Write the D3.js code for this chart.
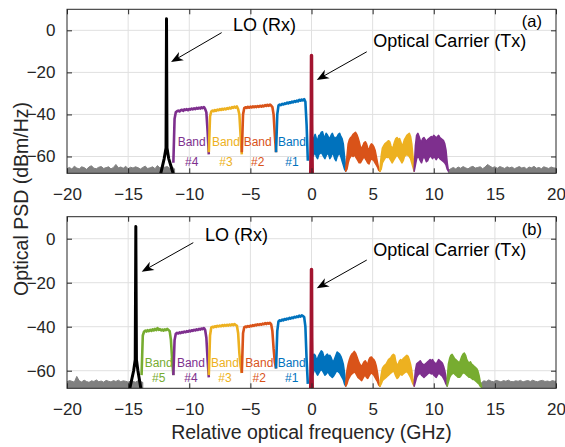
<!DOCTYPE html>
<html><head><meta charset="utf-8">
<script src="https://cdn.jsdelivr.net/npm/d3@7"></script>
<style>
body{margin:0;background:#fff}
svg{display:block}
text{font-family:"Liberation Sans",Arial,Helvetica,sans-serif}
</style>
</head><body>
<svg id="c" width="565" height="447"></svg>
<script>
// ---------- axes ----------
const xTicks = [-20,-15,-10,-5,0,5,10,15,20];
const yTicks = [-60,-40,-20,0];
const xDomain = [-20,20];
const yDomain = [-68,10];
const STEP = 0.1;      // GHz sampling of band traces
const FSTEP = 0.2;     // GHz sampling of noise floor

// ---------- panel (a) ----------
const GL_a = [-65.8,-65.2,-66.0,-64.6,-65.5,-65.9,-64.9,-65.3,-66.1,-65.0,-64.4,-65.6,-65.8,-65.1,-64.8,-65.7,-65.3,-64.9,-65.9,-65.2,-63.8,-65.4,-65.0,-65.6,-64.7,-65.8,-65.1,-65.5,-64.9,-65.3,-66.0,-65.2,-64.6,-65.7,-65.4,-64.9,-65.8,-64.3,-65.5,-65.0,-65.1,-64.8,-65.6,-65.0,-65.9];
const GR_a = [-66.5,-65.8,-65.2,-65.9,-65.0,-65.6,-64.8,-65.4,-65.9,-65.1,-64.7,-65.5,-65.2,-64.9,-65.8,-65.0,-63.8,-64.6,-65.3,-64.9,-65.6,-64.8,-65.2,-65.7,-64.9,-65.4,-65.0,-65.8,-65.3,-64.8,-65.5,-65.1,-65.9,-65.0,-65.4,-64.7,-65.6,-65.2,-65.8,-64.9,-65.3,-65.7,-65.0,-65.4,-65.6];
const LO_a_f = [-12.33,-12.05,-11.9,-11.86,-11.82,-11.68,-11.32];
const LO_a_v = [-68,-61,-56,5.5,-56,-61,-68];
const CR_f = [-0.06,-0.02,0,0.02,0.06];
const CR_a = [-68,-45,-12,-45,-68];
const P4a = [-63,-42,-39,-38.5,-38.2,-38.6,-38.0,-37.8,-38.3,-37.6,-37.9,-37.5,-38.0,-37.4,-37.7,-37.2,-37.6,-37.1,-37.5,-36.9,-37.3,-36.8,-37.2,-36.6,-37.0,-36.5,-37.4,-39,-48,-59];
const Y3a = [-58,-41,-38.6,-38.2,-38.5,-37.9,-38.3,-37.7,-38.0,-37.5,-37.9,-37.3,-37.7,-37.2,-37.6,-37.0,-37.4,-36.8,-37.2,-36.5,-36.9,-36.3,-36.8,-36.2,-37.5,-40,-50,-59];
const O2a = [-58,-40,-37.0,-36.6,-36.9,-36.4,-36.8,-36.3,-36.7,-36.2,-36.6,-36.1,-36.5,-36.0,-36.4,-35.9,-36.3,-35.8,-36.2,-35.6,-36.0,-35.4,-35.9,-35.3,-35.8,-36.5,-40,-50,-58];
const B1a = [-58,-40,-35.8,-35.3,-35.6,-35.0,-35.3,-34.7,-35.0,-34.4,-34.8,-34.2,-34.5,-33.9,-34.3,-33.7,-34.0,-33.4,-33.8,-33.1,-33.5,-32.9,-33.3,-32.7,-34.0,-45,-62];
const BRa_hi = [-53,-51,-49.5,-51.5,-52.5,-50,-49.8,-48.5,-48.3,-50.5,-50.7,-49,-49.8,-51,-51.4,-50,-49,-50.5,-51.5,-51,-50.7,-49.5,-49,-50.5,-51.5,-54,-60,-66];
const BRa_lo = [-60,-59,-58,-60,-61,-59,-58.5,-58,-59,-60,-61,-59.5,-58.5,-59,-61,-60,-58.5,-59,-61,-62,-60,-59,-58.5,-60,-62,-64,-66,-67];
const ORa_hi = [-66,-60,-54,-52,-51,-50.5,-49.5,-49,-48.5,-49.5,-51,-53,-55.5,-56,-55,-53.5,-53,-54,-56,-57,-55,-54,-54.5,-55.5,-57,-60,-63,-66,-67];
const ORa_lo = [-67,-66,-63,-61,-60,-59.5,-60,-59,-60,-61,-62,-63,-63,-62,-61,-60,-61,-62,-63,-63.5,-62,-61,-61.5,-62,-63,-64,-65,-66.5,-67];
const YRa_hi = [-66,-60,-56,-55,-54,-53.5,-53,-52.5,-53,-55,-56.5,-55,-53,-51.5,-51,-52,-51.5,-53,-55,-54,-52,-51,-50,-49.5,-49,-50.5,-54,-60,-66];
const YRa_lo = [-67,-66,-63,-62,-61,-60,-60.5,-60,-61,-62,-63,-62,-61,-60,-59.5,-60,-61,-62,-63,-62,-60,-59.5,-59,-59.5,-60,-61,-63,-65,-67];
const PRa_hi = [-66,-55,-50,-49,-50.5,-52.5,-53,-51.5,-51,-52,-53,-52,-51.5,-51,-50.5,-51,-50,-50.5,-51.5,-50.5,-50,-51,-51.5,-52,-52.5,-54,-57,-63,-67];
const PRa_lo = [-67,-64,-61,-60,-60.5,-62,-63,-61,-60,-61,-62.5,-62,-60.5,-60,-60,-61,-60,-60.5,-61.5,-60.5,-60,-61,-61.5,-62,-62.5,-63,-64,-66,-67];

// ---------- panel (b) ----------
const GL_b = [-65.0,-64.5,-64.8,-65.2,-62.6,-64.6,-65.1,-64.3,-64.9,-65.3,-64.6,-64.9,-64.2,-65.0,-64.7,-65.2,-64.4,-64.8,-65.1,-64.5,-64.9,-64.3,-65.0,-64.6,-64.8,-65.2,-64.7,-64.9,-65.2,-64.6,-64.9,-65.3];
const GR_b = [-65.5,-64.6,-64.9,-64.2,-64.8,-65.0,-64.4,-64.7,-65.1,-64.5,-64.8,-64.3,-64.9,-65.0,-64.6,-64.8,-64.4,-65.1,-64.7,-64.5,-64.9,-64.3,-64.8,-65.0,-64.6,-64.4,-64.9,-64.7,-65.0,-64.5,-64.8,-64.6];
const LO_b_f = [-14.86,-14.55,-14.42,-14.37,-14.32,-14.2,-13.96];
const LO_b_v = [-68,-60,-55,5.5,-55,-60,-68];
const CR_b = [-68,-45,-14,-45,-68];
const G5b = [-62,-44,-42.3,-41.8,-42.2,-41.6,-42.0,-41.4,-41.9,-41.2,-41.7,-41.0,-41.6,-40.6,-41.4,-41.1,-41.7,-41.3,-41.8,-41.2,-41.6,-41.0,-41.5,-42.0,-46,-55,-62];
const P4b = [-62,-46,-43.2,-42.8,-43.1,-42.6,-42.9,-42.4,-42.7,-42.2,-42.5,-42.0,-42.3,-41.8,-42.1,-41.6,-41.9,-41.4,-41.7,-41.2,-41.5,-41.0,-41.3,-40.8,-41.1,-40.6,-41.5,-45,-55,-63];
const Y3b = [-62,-44,-40.4,-40.0,-40.3,-39.8,-40.1,-39.6,-39.9,-39.5,-39.8,-39.3,-39.7,-39.2,-39.6,-39.1,-39.5,-39.0,-39.4,-38.9,-39.3,-38.8,-39.2,-39.6,-43,-52,-58,-61];
const O2b = [-61,-43,-40.3,-39.9,-40.2,-39.7,-40.0,-39.5,-39.8,-39.3,-39.6,-39.1,-39.4,-38.9,-39.2,-38.8,-39.1,-38.6,-38.9,-38.4,-38.8,-38.3,-38.6,-38.2,-38.9,-42,-50,-56,-59];
const B1b = [-59,-42,-37.6,-37.1,-37.4,-36.8,-37.1,-36.5,-36.8,-36.3,-36.6,-36.0,-36.3,-35.8,-36.1,-35.5,-35.8,-35.3,-35.6,-35.0,-35.4,-34.8,-35.2,-35.6,-40,-55,-66];
const BRb_hi = [-56,-52.5,-53,-55,-54.5,-53,-52,-51,-51.5,-53.5,-54,-53,-52.5,-53.5,-53,-54,-55.5,-56,-54.5,-53,-51.5,-52,-52.5,-53.5,-55,-57,-61,-66];
const BRb_lo = [-62,-60,-59.5,-61,-62,-61,-60,-59.5,-60,-61,-62,-61.5,-60.5,-61,-62,-62.5,-63,-62.5,-61.5,-60.5,-60,-60.5,-61,-62,-63,-64,-66,-67];
const ORb_hi = [-66,-60,-57,-55,-53.5,-52.5,-52,-51.2,-52,-53.5,-55,-56.5,-57.5,-58,-57,-56,-55.5,-56.5,-57,-55,-54,-53.8,-54.5,-55,-56,-58,-61,-65,-67];
const ORb_lo = [-67,-66,-64,-63,-62,-61.5,-61,-60.5,-61,-62,-63,-63.5,-64,-64.5,-63.5,-62.5,-62,-63,-63.5,-62.5,-61.5,-61,-61.5,-62,-63,-64,-65,-66.5,-67];
const YRb_hi = [-66,-62,-59,-58,-57.5,-57,-56,-55,-54.5,-54,-53,-52.6,-53,-56,-57.5,-57,-55.5,-55,-55.5,-54.5,-54,-53.5,-53,-53.5,-55,-57,-60,-64,-67];
const YRb_lo = [-67,-66,-64.5,-64,-63.5,-63,-62.5,-62,-61.5,-61,-60.5,-60,-61,-62.5,-63.5,-63,-62,-61.5,-62,-61.5,-61,-60.5,-60.5,-61,-62,-63,-64.5,-66,-67];
const PRb_hi = [-66,-60,-57,-56.4,-56,-55.5,-56.5,-57,-57.5,-57,-56.5,-56,-55.5,-55,-55.5,-55,-56,-56.5,-57,-56,-55,-55.5,-56,-56.5,-58,-60,-63,-66];
const PRb_lo = [-67,-65,-63,-62,-61.5,-61,-62,-62.5,-63,-62.5,-62,-61.5,-61,-61,-61.5,-61,-62,-62.5,-63,-62,-61,-61.5,-62,-62.5,-63.5,-64.5,-66,-67];
const GRb_hi = [-64,-57,-54.5,-53,-52.6,-53.5,-54.5,-55,-55.5,-56,-56.5,-55,-53.5,-52.5,-52,-53,-55,-56,-56.5,-56,-57,-57.5,-58,-58.5,-59,-60,-62,-65,-67];
const GRb_lo = [-67,-65,-63,-62,-61.5,-61,-61.5,-62,-62.5,-63,-63,-62.5,-61.5,-61,-61,-61.5,-62,-62.5,-63,-63,-63.5,-64,-64,-64.5,-65,-65.5,-66,-67,-67.5];

// band label texts / positions (GHz)
const bandNames_a = ["#4","#3","#2","#1"];
const bandPos_a = [-9.8,-7.0,-4.4,-1.6];
const bandNames_b = ["#5","#4","#3","#2","#1"];
const bandPos_b = [-12.5,-9.86,-7.08,-4.27,-1.62];

const C = {blue:"#0072BD", orange:"#D95319", yellow:"#EDB120", purple:"#7E2F8E", green:"#77AC30", red:"#A2142F", gray:"#808080", black:"#000000"};

const panels = [
 {id:"a", top:9.3, bottom:173.3,
  floors:[[-20,GL_a],[11.2,GR_a]],
  lines:[[-11.3,P4a,C.purple],[-8.4,Y3a,C.yellow],[-5.7,O2a,C.orange],[-2.9,B1a,C.blue]],
  areas:[[0.1,BRa_hi,BRa_lo,C.blue],[2.8,ORa_hi,ORa_lo,C.orange],[5.6,YRa_hi,YRa_lo,C.yellow],[8.4,PRa_hi,PRa_lo,C.purple]],
  lo:[LO_a_f,LO_a_v], car:CR_a,
  names:bandNames_a, pos:bandPos_a, colors:[C.purple,C.yellow,C.orange,C.blue],
  labY:[-54.8,-64.5],
  loText:[-6.42,-0.4], loArrow:[[-7.35,-1.1],[-11.49,-15.1]],
  crText:[5.06,-8.0], crArrow:[[4.52,-10.2],[0.43,-23.6]],
  tag:"(a)", tagPos:[17.2,1.7]},
 {id:"b", top:216.7, bottom:388.3,
  floors:[[-20,GL_b],[13.9,GR_b]],
  lines:[[-13.9,G5b,C.green],[-11.3,P4b,C.purple],[-8.4,Y3b,C.yellow],[-5.7,O2b,C.orange],[-2.9,B1b,C.blue]],
  areas:[[0.1,BRb_hi,BRb_lo,C.blue],[2.8,ORb_hi,ORb_lo,C.orange],[5.6,YRb_hi,YRb_lo,C.yellow],[8.4,PRb_hi,PRb_lo,C.purple],[11.1,GRb_hi,GRb_lo,C.green]],
  lo:[LO_b_f,LO_b_v], car:CR_b,
  names:bandNames_b, pos:bandPos_b, colors:[C.green,C.purple,C.yellow,C.orange,C.blue],
  labY:[-58.2,-65.0],
  loText:[-8.71,-1.1], loArrow:[[-9.67,-1.8],[-13.89,-15]],
  crText:[5.06,-7.95], crArrow:[[4.52,-9.7],[0.43,-22.5]],
  tag:"(b)", tagPos:[17.2,1.5]}
];

const svg = d3.select("#c");
const x = d3.scaleLinear().domain(xDomain).range([67,556]);
const TXT = "#262626";

function arrow(g, p0, p1){
  const [x0,y0]=p0,[x1,y1]=p1;
  const dx=x1-x0, dy=y1-y0, L=Math.hypot(dx,dy), ux=dx/L, uy=dy/L;
  const hl=12, hw=4.8, nb=3.5;
  const bx=x1-ux*hl, by=y1-uy*hl;
  g.append("line").attr("x1",x0).attr("y1",y0).attr("x2",x1-ux*6).attr("y2",y1-uy*6)
   .attr("stroke","#000").attr("stroke-width",1);
  const pts=[[x1,y1],[bx-uy*hw,by+ux*hw],[x1-ux*(hl-nb),y1-uy*(hl-nb)],[bx+uy*hw,by-ux*hw]];
  g.append("path").attr("d","M"+pts.map(p=>p.join(",")).join("L")+"Z").attr("fill","#000");
}

panels.forEach(P=>{
  const y = d3.scaleLinear().domain(yDomain).range([P.bottom,P.top]);
  const g = svg.append("g");
  const clipId="clip"+P.id;
  svg.append("clipPath").attr("id",clipId).append("rect")
    .attr("x",67).attr("y",P.top).attr("width",556-67).attr("height",P.bottom-P.top);

  // grid
  g.append("g").selectAll("line").data(xTicks.slice(1,-1)).join("line")
    .attr("x1",d=>x(d)).attr("x2",d=>x(d)).attr("y1",P.top).attr("y2",P.bottom)
    .attr("stroke","#e0e0e0").attr("stroke-width",1);
  g.append("g").selectAll("line").data(yTicks).join("line")
    .attr("y1",d=>y(d)).attr("y2",d=>y(d)).attr("x1",67).attr("x2",556)
    .attr("stroke","#e0e0e0").attr("stroke-width",1);

  const plot = g.append("g").attr("clip-path",`url(#${clipId})`);

  // noise floor
  P.floors.forEach(([f0,v])=>{
    const ar = d3.area().x((d,i)=>x(f0+i*FSTEP)).y0(y(yDomain[0])).y1(d=>y(d));
    plot.append("path").attr("d",ar(v)).attr("fill",C.gray).attr("stroke",C.gray)
      .attr("stroke-width",1).attr("stroke-linejoin","round");
  });
  // right-side (image) bands
  P.areas.forEach(([f0,hi,lo,col])=>{
    const ar = d3.area().x((d,i)=>x(f0+i*STEP)).y0((d,i)=>y(lo[i])).y1(d=>y(d));
    plot.append("path").attr("d",ar(hi)).attr("fill",col).attr("stroke",col)
      .attr("stroke-width",1.6).attr("stroke-linejoin","round");
  });
  // left bands
  P.lines.forEach(([f0,v,col])=>{
    const ln = d3.line().x((d,i)=>x(f0+i*STEP)).y(d=>y(d));
    plot.append("path").attr("d",ln(v)).attr("fill","none").attr("stroke",col)
      .attr("stroke-width",2.6).attr("stroke-linejoin","round");
  });
  // LO
  const [lf,lv]=P.lo;
  plot.append("path").attr("d",d3.line().x((d,i)=>x(lf[i])).y(d=>y(d))(lv))
    .attr("fill","none").attr("stroke",C.black).attr("stroke-width",3).attr("stroke-linejoin","round");
  // carrier
  plot.append("path").attr("d",d3.line().x((d,i)=>x(CR_f[i])).y(d=>y(d))(P.car))
    .attr("fill","none").attr("stroke",C.red).attr("stroke-width",3.5).attr("stroke-linejoin","round");

  // band labels
  P.names.forEach((n,i)=>{
    g.append("text").attr("x",x(P.pos[i])).attr("y",y(P.labY[0])).attr("text-anchor","middle")
      .attr("font-size",12).attr("fill",P.colors[i]).text("Band");
    g.append("text").attr("x",x(P.pos[i])).attr("y",y(P.labY[1])).attr("text-anchor","middle")
      .attr("font-size",12).attr("fill",P.colors[i]).text(n);
  });

  // annotations
  g.append("text").attr("x",x(P.loText[0])).attr("y",y(P.loText[1])).attr("font-size",18).attr("fill","#000").text("LO (Rx)");
  g.append("text").attr("x",x(P.crText[0])).attr("y",y(P.crText[1])).attr("font-size",18).attr("fill","#000").text("Optical Carrier (Tx)");
  g.append("text").attr("x",x(P.tagPos[0])).attr("y",y(P.tagPos[1])).attr("font-size",16.5).attr("fill","#000").text(P.tag);
  arrow(g,[x(P.loArrow[0][0]),y(P.loArrow[0][1])],[x(P.loArrow[1][0]),y(P.loArrow[1][1])]);
  arrow(g,[x(P.crArrow[0][0]),y(P.crArrow[0][1])],[x(P.crArrow[1][0]),y(P.crArrow[1][1])]);

  // axes
  const ax = d3.axisBottom(x).tickValues(xTicks).tickSize(-5).tickSizeOuter(0).tickPadding(15);
  const gx = g.append("g").attr("transform",`translate(0,${P.bottom})`).call(ax);
  const ay = d3.axisLeft(y).tickValues(yTicks).tickSize(-5).tickSizeOuter(0).tickPadding(11.5);
  const gy = g.append("g").attr("transform",`translate(67,0)`).call(ay);
  const axt = d3.axisTop(x).tickValues(xTicks).tickSize(-5).tickSizeOuter(0).tickFormat("");
  const gxt = g.append("g").attr("transform",`translate(0,${P.top})`).call(axt);
  const ayr = d3.axisRight(y).tickValues(yTicks).tickSize(-5).tickSizeOuter(0).tickFormat("");
  const gyr = g.append("g").attr("transform",`translate(556,0)`).call(ayr);
  [gx,gy,gxt,gyr].forEach(a=>{
    a.select(".domain").remove();
    a.selectAll(".tick line").attr("stroke",TXT);
    a.selectAll("text").attr("font-size",17).attr("fill",TXT)
      .attr("font-family","'Liberation Sans',Arial,sans-serif");
  });
  g.append("rect").attr("x",67).attr("y",P.top).attr("width",556-67).attr("height",P.bottom-P.top)
    .attr("fill","none").attr("stroke",TXT).attr("stroke-width",1);
});

svg.append("text").attr("x",311.5).attr("y",439).attr("text-anchor","middle")
  .attr("font-size",19.5).attr("fill",TXT).text("Relative optical frequency (GHz)");
svg.append("text").attr("transform","translate(27.5,199) rotate(-90)").attr("text-anchor","middle")
  .attr("font-size",19.5).attr("fill",TXT).text("Optical PSD (dBm/Hz)");
</script>
</body></html>
